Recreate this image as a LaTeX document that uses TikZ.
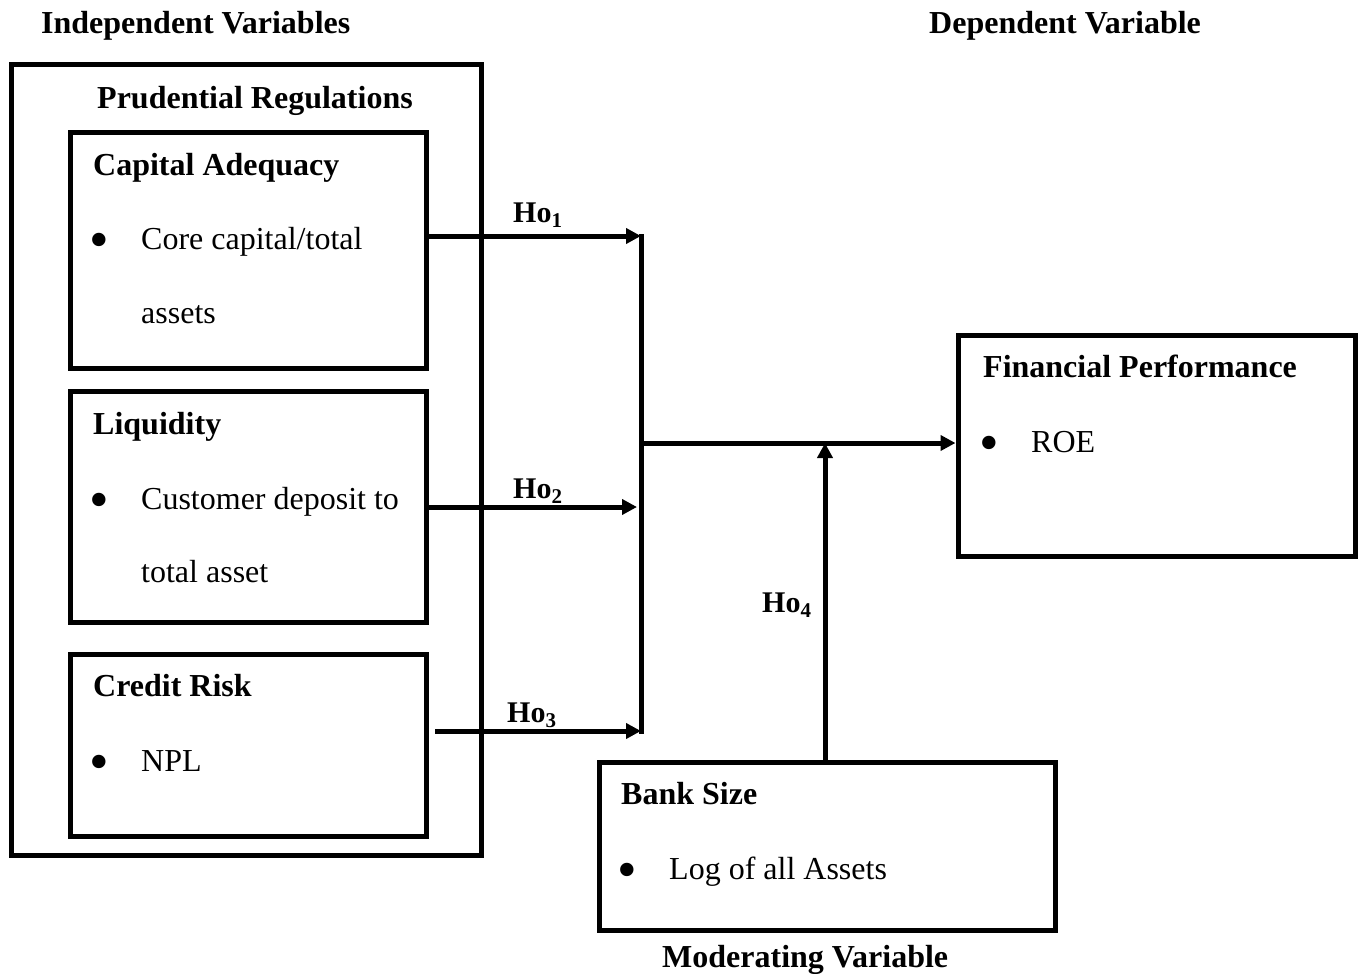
\documentclass[tikz,border=0pt]{standalone}
\usepackage{fontspec}
\setmainfont{Liberation Serif}
\usetikzlibrary{arrows.meta}
\begin{document}
\begin{tikzpicture}[x=1pt,y=-1pt,
  box/.style={draw,line width=5pt,inner sep=0pt},
  txt/.style={anchor=base west,inner sep=0pt,font=\fontsize{32}{38}\selectfont},
  btxt/.style={txt,font=\fontsize{32}{38}\selectfont\bfseries},
  bul/.style={anchor=base,inner sep=0pt,font=\fontsize{56}{56}\selectfont},
  conn/.style={line width=5pt,-{Triangle[length=15pt,width=15pt]}},
  plain/.style={line width=5pt},
  ho/.style={anchor=base west,inner sep=0pt,font=\fontsize{30}{36}\selectfont\bfseries}]
\useasboundingbox (0,0) rectangle (1361,974);
% boxes
\node[box,minimum width=470pt,minimum height=790pt] (outer) at (246,460) {};
\node[box,minimum width=356pt,minimum height=236pt] (cap) at (248,250) {};
\node[box,minimum width=356pt,minimum height=231pt] (liq) at (248,506.5) {};
\node[box,minimum width=356pt,minimum height=182pt] (cred) at (248,745) {};
\node[box,minimum width=397pt,minimum height=221pt] (fin) at (1156.5,445.5) {};
\node[box,minimum width=456pt,minimum height=168pt] (bank) at (827,846) {};
% headings
\node[btxt] (indep) at (41,34) {Independent Variables};
\node[btxt] (dep) at (929,34) {Dependent Variable};
\node[btxt] (mod) at (662,967) {Moderating Variable};
\node[btxt] (prud) at (97,108) {Prudential Regulations};
% capital adequacy
\node[btxt] (capt) at (93,175) {Capital Adequacy};
\node[bul] (capb) at (99.5,258) {\textbullet};
\node[txt] (capl1) at (141,249) {Core capital/total};
\node[txt] (capl2) at (141,323) {assets};
% liquidity
\node[btxt] (liqt) at (93,434) {Liquidity};
\node[bul] (liqb) at (99.5,518) {\textbullet};
\node[txt] (liql1) at (141,509) {Customer deposit to};
\node[txt] (liql2) at (141,582) {total asset};
% credit risk
\node[btxt] (credt) at (93,696) {Credit Risk};
\node[bul] (credb) at (99.5,780) {\textbullet};
\node[txt] (credl1) at (141,771) {NPL};
% financial performance
\node[btxt] (fint) at (983,377) {Financial Performance};
\node[bul] (finb) at (989.5,461) {\textbullet};
\node[txt] (finl1) at (1031,452) {ROE};
% bank size
\node[btxt] (bankt) at (621,804) {Bank Size};
\node[bul] (bankb) at (627.5,888) {\textbullet};
\node[txt] (bankl1) at (669,879) {Log of all Assets};
% connector coordinates
\coordinate (j1) at (641,236);
\coordinate (j3) at (641,731);
\coordinate (jm) at (641,443);
\coordinate (j2) at (637,507);
\coordinate (c1) at (cap.east |- j1);
\coordinate (c2) at (liq.east |- j2);
\coordinate (c3) at (435,731);
\coordinate (fm) at (fin.west |- jm);
\coordinate (bm) at (825,443);
% connectors
\draw[plain,line cap=rect] (j1) -- (j3);
\draw[conn] (c1) -- (j1);
\draw[conn] (c2) -- (j2);
\draw[conn] (c3) -- (j3);
\draw[conn] (jm) -- (fm);
\draw[conn] (bm |- bank.north) -- (bm);
% hypothesis labels
\node[ho] (h1) at (513,222) {Ho\textsubscript{1}};
\node[ho] (h2) at (513,498) {Ho\textsubscript{2}};
\node[ho] (h3) at (507,722) {Ho\textsubscript{3}};
\node[ho] (h4) at (762,612) {Ho\textsubscript{4}};
\end{tikzpicture}
\end{document}
